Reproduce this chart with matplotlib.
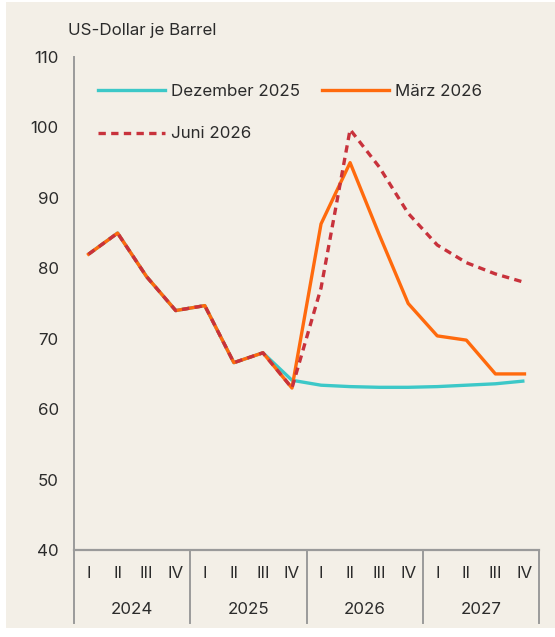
import matplotlib

matplotlib.use("Agg")
import matplotlib.pyplot as plt
import matplotlib.transforms as mtransforms
from matplotlib.lines import Line2D
from matplotlib.patches import Rectangle

plt.rcParams["font.family"] = ["Inter", "DejaVu Sans"]

years = ["2024", "2025", "2026", "2027"]
quarters = ["I", "II", "III", "IV"]

# Brent forecasts by vintage, quarterly 2024 I .. 2027 IV
dez_2025 = [82, 85, 78.8, 74, 74.7, 66.6, 68, 64.1,
            63.4, 63.2, 63.1, 63.1, 63.2, 63.4, 63.6, 64]
maerz_2026 = [82, 85, 78.8, 74, 74.7, 66.6, 68, 63,
              86.3, 95, 84.8, 75, 70.4, 69.8, 65, 65]
juni_2026 = [82, 85, 78.8, 74, 74.7, 66.6, 68, 63,
             77.2, 99.7, 94.4, 87.8, 83.3, 80.8, 79.2, 78]
yticks = [40, 50, 60, 70, 80, 90, 100, 110]

BG = "#f3efe7"
GREY = "#9a9a9a"
TEXT = "#2b2b2b"
C_DEZ = "#3cc8c8"
C_MAR = "#ff6a0d"
C_JUN = "#c8323c"
FS = 12.2

W, H = 555, 637
fig = plt.figure(figsize=(W / 100, H / 100), dpi=100, facecolor="white")
fig.patches.append(Rectangle((6 / W, 9 / H), 549 / W, 626 / H,
                             transform=fig.transFigure, facecolor=BG,
                             edgecolor="none", zorder=-10))

ax = fig.add_axes([74 / W, 1 - 550 / H, (539 - 74) / W, (550 - 57) / H])
ax.set_facecolor("none")

n = len(years) * len(quarters)
x = list(range(n))
ax.plot(x, dez_2025, color=C_DEZ, lw=2.4, solid_capstyle="butt", zorder=3)
ax.plot(x, maerz_2026, color=C_MAR, lw=2.4, zorder=4)
ax.plot(x, juni_2026, color=C_JUN, lw=2.4, ls=(0, (2.2, 1.6)), zorder=5)

ax.set_xlim(-0.5, n - 0.5)
ax.set_ylim(40, 110)
ax.set_yticks(yticks)
ax.tick_params(axis="y", length=0, pad=11, labelsize=FS, labelcolor=TEXT)
ax.set_xticks([])
for side in ("top", "right", "bottom"):
    ax.spines[side].set_visible(False)
ax.spines["left"].set_color(GREY)
ax.spines["left"].set_linewidth(1.4)
ax.spines["left"].set_bounds(40, 110)

# category axis: baseline, year separators, quarter and year labels
trans = mtransforms.blended_transform_factory(ax.transData, ax.transAxes)
drop = -(623 - 550) / (550 - 57)
ax.plot([-0.5, n - 0.5], [0, 0], transform=trans, color=GREY, lw=1.6,
        clip_on=False)
for k in range(len(years) + 1):
    xs = -0.5 + 4 * k
    ax.plot([xs, xs], [0, drop], transform=trans, color=GREY, lw=1.4,
            clip_on=False)
q_y = -(574 - 550) / (550 - 57)
y_y = -(610 - 550) / (550 - 57)
for i in range(n):
    ax.text(i, q_y, quarters[i % 4], transform=trans, ha="center",
            va="center", fontsize=FS, color=TEXT)
for k, yr in enumerate(years):
    ax.text(4 * k + 1.5, y_y, yr, transform=trans, ha="center",
            va="center", fontsize=FS, color=TEXT)

fig.text(68 / W, 1 - 30 / H, "US-Dollar je Barrel", ha="left", va="center",
         fontsize=FS, color=TEXT)

handles = [
    Line2D([], [], color=C_DEZ, lw=2.4),
    Line2D([], [], color=C_JUN, lw=2.4, ls=(0, (2.2, 1.6))),
    Line2D([], [], color=C_MAR, lw=2.4),
]
labels = ["Dezember 2025", "Juni 2026", "März 2026"]
leg = fig.legend(handles, labels, ncol=2, loc="upper left",
                 bbox_to_anchor=(98 / W, 1 - 84 / H), frameon=False,
                 fontsize=FS, handlelength=3.95, handletextpad=0.35,
                 columnspacing=1.3, labelspacing=1.62, borderpad=0,
                 borderaxespad=0)
for t in leg.get_texts():
    t.set_color(TEXT)

fig.savefig("out.png", dpi=100, facecolor="white")
